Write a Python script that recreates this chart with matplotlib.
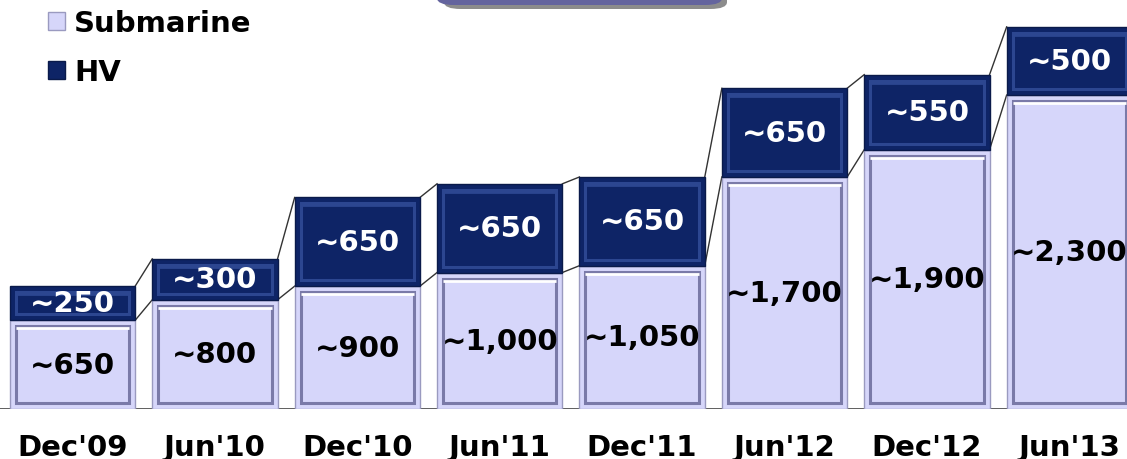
import matplotlib.pyplot as plt
from matplotlib.patches import Rectangle, FancyBboxPatch, Patch
import numpy as np

categories = ["Dec'09", "Jun'10", "Dec'10", "Jun'11", "Dec'11", "Jun'12", "Dec'12", "Jun'13"]
submarine = [650, 800, 900, 1000, 1050, 1700, 1900, 2300]
hv = [250, 300, 650, 650, 650, 650, 550, 500]
sub_labels = ["~650", "~800", "~900", "~1,000", "~1,050", "~1,700", "~1,900", "~2,300"]
hv_labels = ["~250", "~300", "~650", "~650", "~650", "~650", "~550", "~500"]

SUB_C = '#D6D6FA'
HV_C = '#0E2466'

W, H = 1127, 460
fig = plt.figure(figsize=(W / 100, H / 100), dpi=100)
ax = fig.add_axes([0, 50 / H, 1, 1 - 50 / H])
ax.set_facecolor('none')
x = np.arange(len(categories))
bw = 0.88

b1 = ax.bar(x, submarine, bw, color=SUB_C, edgecolor='#9A9AC0', linewidth=1, zorder=2, label='Submarine')
b2 = ax.bar(x, hv, bw, bottom=submarine, color=HV_C, edgecolor='#0A1A4A', linewidth=1, zorder=2, label='HV')

ax.set_xlim(-72.5 / 142.4, (W - 72.5) / 142.4)
ax.set_ylim(0, 3004)

# bevel effect
px_x = (ax.get_xlim()[1] - ax.get_xlim()[0]) / W
px_y = 3004 / (H - 50)
for bars, ec, hl in [(b1, '#7A7AA8', 'white'), (b2, '#2C4690', '#2C4690')]:
    for r in bars:
        x0, y0 = r.get_x(), r.get_y()
        w, h = r.get_width(), r.get_height()
        ix, iy = 6 * px_x, 6 * px_y
        inner = Rectangle((x0 + ix, y0 + iy), w - 2 * ix, h - 2 * iy, fill=False,
                          edgecolor=ec, linewidth=2.2, zorder=3)
        ax.add_patch(inner)
        ax.plot([x0 + ix, x0 + w - ix], [y0 + h - iy - 2 * px_y] * 2, color=hl, lw=2, zorder=3,
                solid_capstyle='butt')

# connectors
tops = np.array(submarine) + np.array(hv)
for i in range(len(x) - 1):
    for arr in (submarine, tops):
        ax.plot([x[i] + bw / 2, x[i + 1] - bw / 2], [arr[i], arr[i + 1]], color='#333333', lw=1, zorder=1)

# labels
for i in range(len(x)):
    ax.text(x[i], submarine[i] / 2, sub_labels[i], ha='center', va='center', fontsize=21,
            fontweight='bold', color='black', zorder=4)
    ax.text(x[i], submarine[i] + hv[i] / 2, hv_labels[i], ha='center', va='center', fontsize=21,
            fontweight='bold', color='white', zorder=4)

ax.axhline(0, color='#444444', lw=1.2, zorder=1)
for s in ax.spines.values():
    s.set_visible(False)
ax.set_yticks([])
ax.set_xticks(x)
ax.set_xticklabels(categories, fontsize=21, fontweight='bold')
ax.tick_params(axis='x', length=0, pad=17)

handles = [Patch(facecolor=SUB_C, edgecolor='#9A9AC0'), Patch(facecolor=HV_C, edgecolor='#0A1A4A')]
leg = ax.legend(handles, ['Submarine', 'HV'], loc='upper left', bbox_to_anchor=(36 / W, 1.003),
                frameon=False, prop={'size': 21, 'weight': 'bold'}, handlelength=0.6,
                handleheight=0.6, handletextpad=0.3, labelspacing=0.72, borderaxespad=0)

# top title box (cut off)
fig.patches.append(FancyBboxPatch((444 / W, 1 - 10 / H), 283 / W, 40 / H,
                                  boxstyle='round,pad=0,rounding_size=0.015', transform=fig.transFigure,
                                  facecolor='#8C8C8C', edgecolor='none', zorder=0))
fig.patches.append(FancyBboxPatch((437 / W, 1 - 6 / H), 285 / W, 40 / H,
                                  boxstyle='round,pad=0,rounding_size=0.015', transform=fig.transFigure,
                                  facecolor='#64649E', edgecolor='none', zorder=1))

fig.savefig('out.png', dpi=100)
